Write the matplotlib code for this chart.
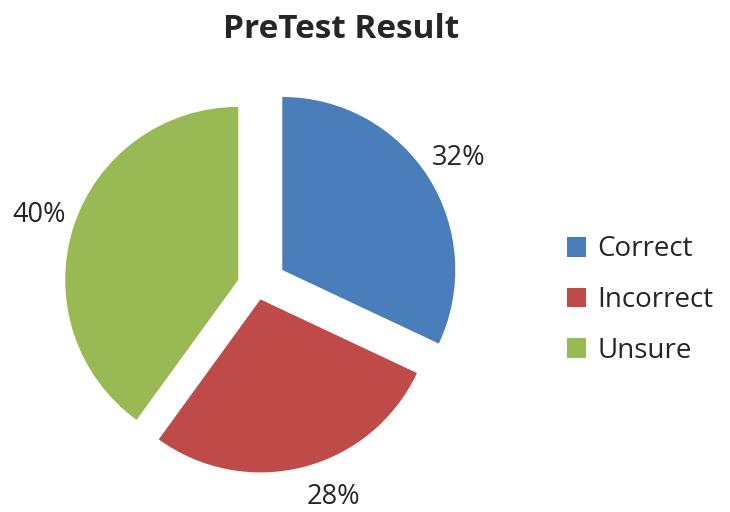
import matplotlib
matplotlib.use("Agg")
import matplotlib.pyplot as plt

categories = ["Correct", "Incorrect", "Unsure"]
values = [32, 28, 40]
colors = ["#4A7EBB", "#BE4B48", "#98B954"]
explode = [0.173, 0.08, 0.114]

plt.rcParams['font.family'] = ['Open Sans', 'DejaVu Sans']

W, H = 730, 512
fig = plt.figure(figsize=(W / 100, H / 100), dpi=100)

R = 173.0
cx, cy = 257.0, 512 - 286.0
lim = 1.25
side = 2 * lim * R
ax = fig.add_axes([(cx - side / 2) / W, (cy - side / 2) / H, side / W, side / H])

wedges, texts, autotexts = ax.pie(
    values, colors=colors, explode=explode, startangle=90, counterclock=False,
    autopct='%.0f%%', pctdistance=1.21, radius=1.0,
    textprops=dict(fontsize=19.5, color='#262626'),
)
# nudge the "28%" label to where the reference shows it
autotexts[1].set_position(((333 - cx) / R, -(497 - 286) / R))
ax.set_xlim(-lim, lim)
ax.set_ylim(-lim, lim)
ax.set_aspect('equal')
ax.axis('off')

fig.text(341 / W, 1 - 30 / H, "PreTest Result", ha='center', va='center',
         fontsize=24, fontweight='bold', color='#262626')

leg = fig.legend(wedges, categories, loc='center left',
                 bbox_to_anchor=(553 / W, 1 - 300 / H), frameon=False,
                 fontsize=20, handlelength=0.7, handleheight=0.7,
                 handletextpad=0.4, labelspacing=0.81, borderpad=0)
for t in leg.get_texts():
    t.set_color('#262626')

fig.savefig("out.png", dpi=100, facecolor='white')
